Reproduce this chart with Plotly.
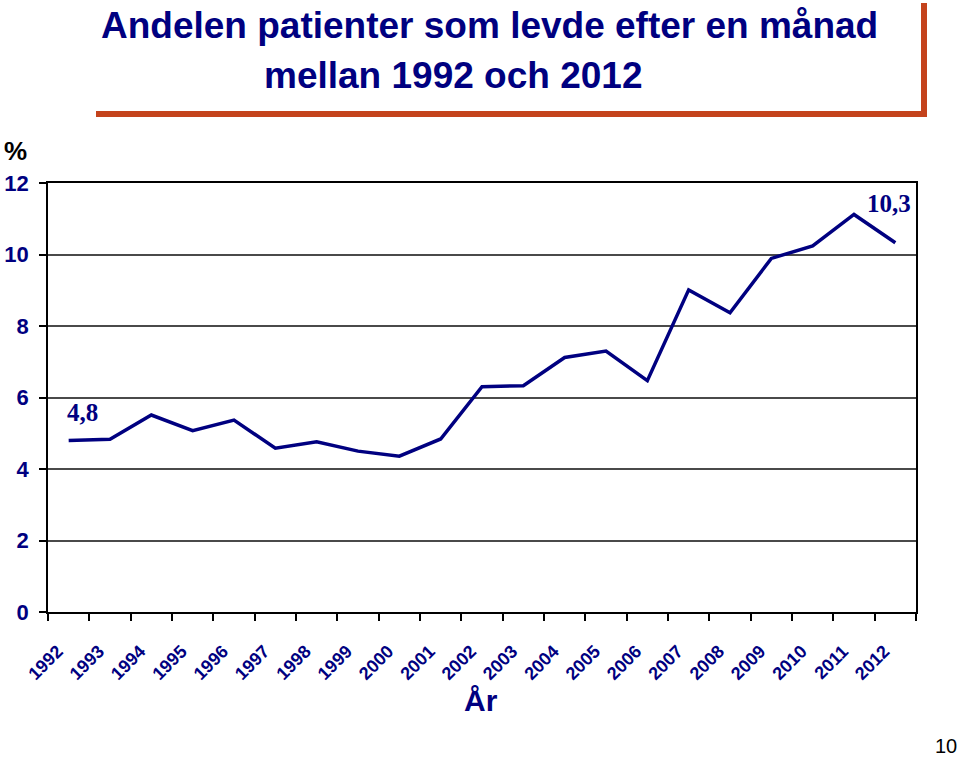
import plotly.graph_objects as go

years = [str(y) for y in range(1992, 2013)]
values = [4.8, 4.83, 5.51, 5.07, 5.37, 4.58, 4.76, 4.50, 4.36, 4.84, 6.30,
          6.33, 7.12, 7.30, 6.47, 9.01, 8.37, 9.89, 10.24, 11.12, 10.33]
y_ticks = [0, 2, 4, 6, 8, 10, 12]

NAVY = "#000080"
W, H = 960, 757
L, R, T, B = 48, 916, 183, 612

def px(x):
    return (x - L) / (R - L)

def py(y):
    return (B - y) / (B - T)

fig = go.Figure()
fig.add_trace(go.Scatter(x=years, y=values, mode="lines",
                         line=dict(color=NAVY, width=3.5), hoverinfo="skip"))

fig.update_layout(
    width=W, height=H,
    margin=dict(l=L, r=W - R, t=T, b=H - B, pad=0, autoexpand=False),
    paper_bgcolor="white", plot_bgcolor="white",
    showlegend=False,
    font=dict(family="Liberation Sans, Arial", color=NAVY),
)
fig.update_xaxes(
    type="category", tickson="boundaries", ticks="outside", ticklen=7,
    tickcolor="black", tickwidth=1.5, automargin=False,
    showline=True, linecolor="black", linewidth=1.5, mirror=True,
    showgrid=False, tickangle=-45, ticklabelstandoff=20, ticklabelshift=-11,
    tickfont=dict(family="Liberation Sans, Arial", size=18, color=NAVY, weight="bold"),
    range=[-0.5, 20.5],
)
fig.update_yaxes(
    range=[0, 12], tickvals=y_ticks, ticks="outside", ticklen=7,
    tickcolor="black", tickwidth=1.5, automargin=False,
    showline=True, linecolor="black", linewidth=1.5, mirror=True,
    showgrid=True, gridcolor="#4a4a4a", gridwidth=1.5, zeroline=False,
    tickfont=dict(family="Liberation Sans, Arial", size=22, color=NAVY, weight="bold"),
    ticklabelstandoff=6,
)

# title box shadow bars
ORANGE = "#C4431C"
fig.add_shape(type="rect", xref="paper", yref="paper",
              x0=px(96), x1=px(927), y0=py(117), y1=py(111),
              fillcolor=ORANGE, line=dict(width=0))
fig.add_shape(type="rect", xref="paper", yref="paper",
              x0=px(921), x1=px(927), y0=py(117), y1=py(3),
              fillcolor=ORANGE, line=dict(width=0))

ann = [
    dict(text="Andelen patienter som levde efter en månad", x=px(489), y=py(25),
         font=dict(size=37, color=NAVY, family="Liberation Sans, Arial", weight="bold")),
    dict(text="mellan 1992 och 2012", x=px(453), y=py(75),
         font=dict(size=37, color=NAVY, family="Liberation Sans, Arial", weight="bold")),
    dict(text="%", x=px(15), y=py(151),
         font=dict(size=26, color="black", family="Liberation Sans, Arial", weight="bold")),
    dict(text="År", x=px(481), y=py(700),
         font=dict(size=30, color=NAVY, family="Liberation Sans, Arial", weight="bold")),
    dict(text="10", x=px(946), y=py(746),
         font=dict(size=20, color="black", family="Liberation Sans, Arial")),
]
for a in ann:
    fig.add_annotation(xref="paper", yref="paper", showarrow=False,
                       xanchor="center", yanchor="middle", **a)

fig.add_annotation(x=0, y=values[0], xref="x", yref="y", showarrow=False,
                   text="4,8", xshift=14, yshift=28,
                   font=dict(size=25, color=NAVY, family="Liberation Serif, Times New Roman", weight="bold"))
fig.add_annotation(x=len(years) - 1, y=values[-1], xref="x", yref="y", showarrow=False,
                   text="10,3", xshift=-6, yshift=39,
                   font=dict(size=25, color=NAVY, family="Liberation Serif, Times New Roman", weight="bold"))

fig.write_html(
    "out.html",
    config={"displayModeBar": False},
    post_script="document.body.style.margin='0px';document.documentElement.style.overflow='hidden';",
)
